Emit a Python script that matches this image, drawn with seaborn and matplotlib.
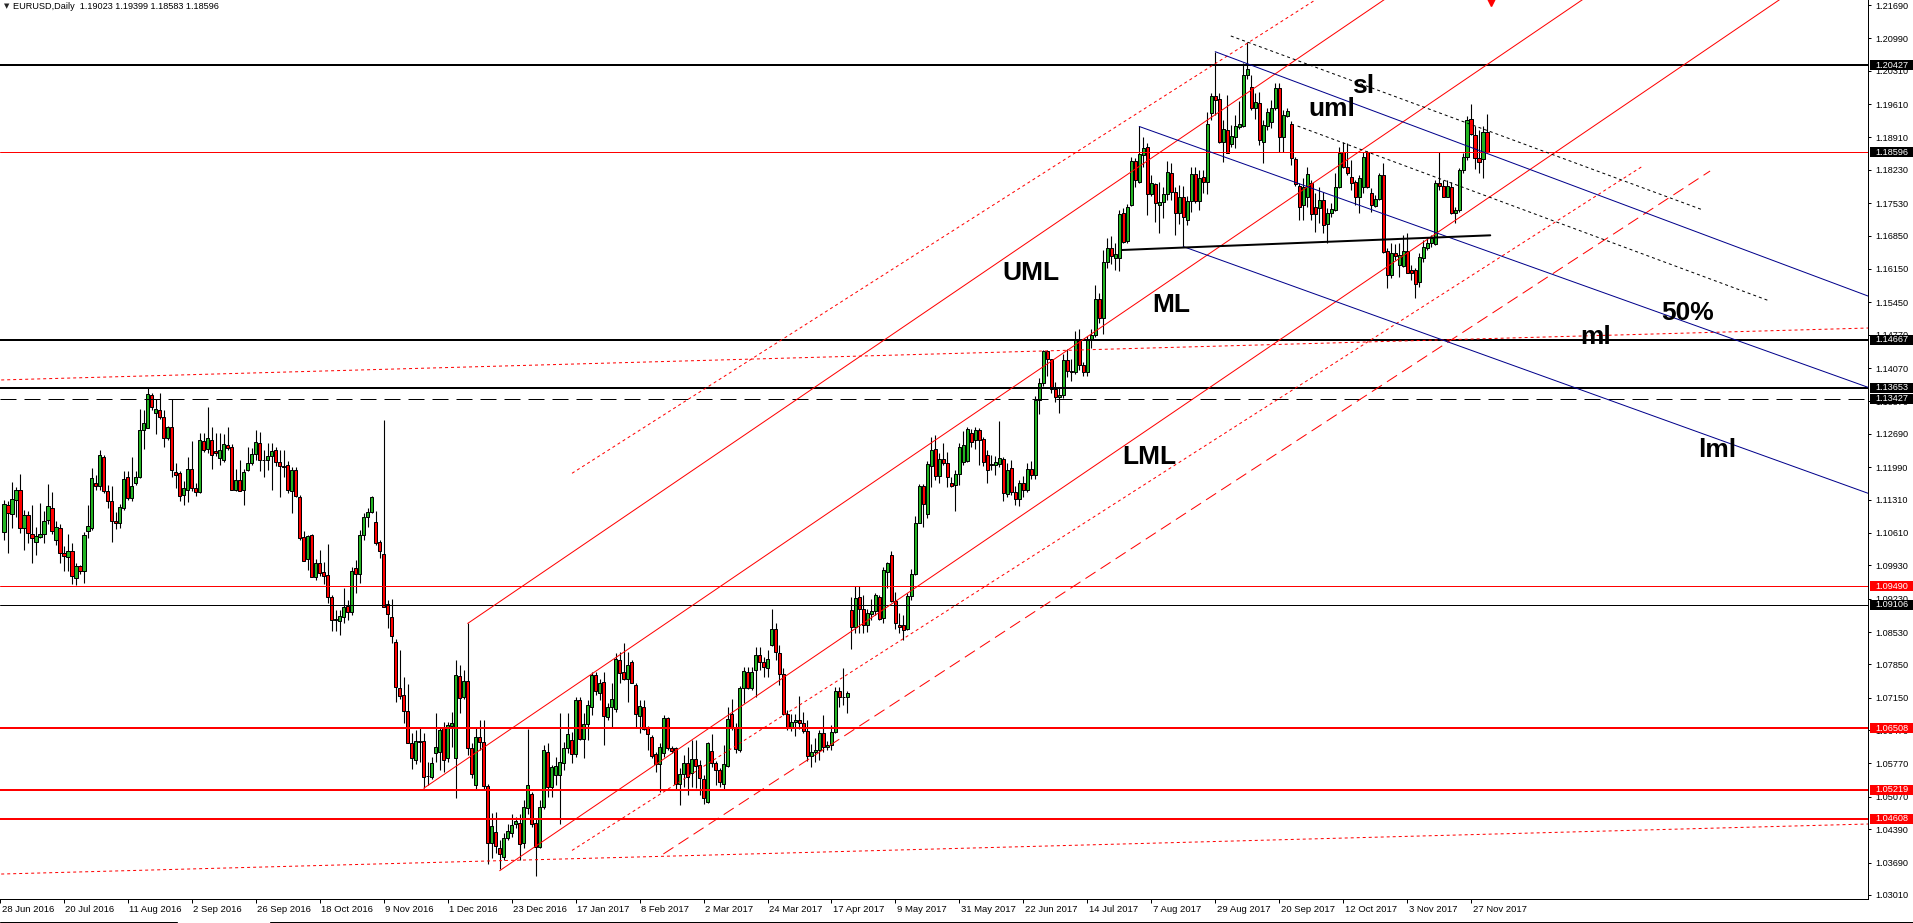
import matplotlib
matplotlib.use("Agg")
import matplotlib.pyplot as plt
import matplotlib.transforms as mtransforms
from matplotlib.patches import Rectangle
from matplotlib.lines import Line2D
import seaborn as sns
import numpy as np
import pandas as pd

# Style
sns.set_theme(style="white")
plt.rcParams['font.family'] = ['Liberation Sans', 'DejaVu Sans']
plt.rcParams['lines.scale_dashes'] = False

PX = 0.72  # one screen pixel in points (dpi 100)

# ---- EURUSD daily bars, 29 Jun 2016 .. 1 Dec 2017 (bar index 0..371) ----
opens = [
    1.1062, 1.1119, 1.1100, 1.1130, 1.1151, 1.1071, 1.1098, 1.1058, 1.1042, 1.1053,
    1.1058, 1.1088, 1.1113, 1.1047, 1.1071, 1.1019, 1.1011, 1.1023, 1.0966, 1.0991,
    1.0982, 1.1066, 1.1072, 1.1165, 1.1159, 1.1220, 1.1149, 1.1128, 1.1086, 1.1081,
    1.1113, 1.1178, 1.1135, 1.1165, 1.1179, 1.1276, 1.1282, 1.1350, 1.1313, 1.1318,
    1.1304, 1.1261, 1.1283, 1.1189, 1.1186, 1.1141, 1.1152, 1.1196, 1.1155, 1.1146,
    1.1254, 1.1238, 1.1255, 1.1233, 1.1218, 1.1215, 1.1245, 1.1241, 1.1151, 1.1172,
    1.1151, 1.1192, 1.1207, 1.1226, 1.1249, 1.1213, 1.1213, 1.1222, 1.1234, 1.1209,
    1.1201, 1.1203, 1.1148, 1.1194, 1.1136, 1.1052, 1.1006, 1.1056, 1.0968, 1.0998,
    1.0978, 1.0972, 1.0926, 1.0878, 1.0877, 1.0885, 1.0908, 1.0894, 1.0987, 1.0974,
    1.1056, 1.1094, 1.1104, 1.1083, 1.1041, 1.1016, 1.0911, 1.0884, 1.0833, 1.0736,
    1.0720, 1.0688, 1.0619, 1.0584, 1.0625, 1.0625, 1.0551, 1.0548, 1.0600, 1.0602,
    1.0651, 1.0588, 1.0656, 1.0588, 1.0761, 1.0717, 1.0750, 1.0610, 1.0532, 1.0633,
    1.0623, 1.0530, 1.0410, 1.0434, 1.0399, 1.0381, 1.0420, 1.0432, 1.0450, 1.0453,
    1.0411, 1.0483, 1.0513, 1.0453, 1.0402, 1.0486, 1.0602, 1.0527, 1.0552, 1.0552,
    1.0577, 1.0609, 1.0626, 1.0597, 1.0710, 1.0628, 1.0660, 1.0696, 1.0762, 1.0726,
    1.0749, 1.0675, 1.0695, 1.0691, 1.0794, 1.0768, 1.0755, 1.0790, 1.0742, 1.0677,
    1.0695, 1.0654, 1.0633, 1.0597, 1.0576, 1.0598, 1.0672, 1.0609, 1.0609, 1.0535,
    1.0556, 1.0577, 1.0558, 1.0586, 1.0574, 1.0544, 1.0497, 1.0603, 1.0579, 1.0563,
    1.0535, 1.0572, 1.0680, 1.0651, 1.0605, 1.0735, 1.0770, 1.0735, 1.0773, 1.0805,
    1.0790, 1.0778, 1.0825, 1.0860, 1.0808, 1.0765, 1.0680, 1.0652, 1.0665, 1.0669,
    1.0661, 1.0646, 1.0592, 1.0601, 1.0605, 1.0642, 1.0612, 1.0616, 1.0643, 1.0730,
    1.0716, 1.0716, 1.0899, 1.0864, 1.0927, 1.0902, 1.0867, 1.0891, 1.0897, 1.0927,
    1.0883, 1.0979, 1.1014, 1.0918, 1.0867, 1.0867, 1.0860, 1.0928, 1.0974, 1.1082,
    1.1159, 1.1100, 1.1201, 1.1238, 1.1180, 1.1217, 1.1207, 1.1165, 1.1161, 1.1184,
    1.1210, 1.1212, 1.1270, 1.1256, 1.1277, 1.1259, 1.1224, 1.1205, 1.1203, 1.1205,
    1.1217, 1.1142, 1.1197, 1.1146, 1.1132, 1.1166, 1.1151, 1.1195, 1.1182, 1.1339,
    1.1375, 1.1442, 1.1425, 1.1362, 1.1347, 1.1350, 1.1423, 1.1400, 1.1399, 1.1467,
    1.1414, 1.1398, 1.1468, 1.1476, 1.1551, 1.1513, 1.1629, 1.1660, 1.1639, 1.1639,
    1.1733, 1.1674, 1.1749, 1.1841, 1.1798, 1.1854, 1.1870, 1.1772, 1.1793, 1.1749,
    1.1756, 1.1772, 1.1817, 1.1776, 1.1732, 1.1765, 1.1718, 1.1758, 1.1814, 1.1758,
    1.1808, 1.1798, 1.1943, 1.1978, 1.1971, 1.1882, 1.1907, 1.1877, 1.1891, 1.1912,
    1.1915, 1.2022, 1.1996, 1.1952, 1.1964, 1.1881, 1.1916, 1.1923, 1.1952, 1.1994,
    1.1891, 1.1937, 1.1920, 1.1845, 1.1790, 1.1749, 1.1767, 1.1795, 1.1746, 1.1742,
    1.1760, 1.1709, 1.1733, 1.1739, 1.1788, 1.1861, 1.1828, 1.1809, 1.1798, 1.1765,
    1.1786, 1.1861, 1.1774, 1.1747, 1.1761, 1.1812, 1.1653, 1.1602, 1.1648, 1.1623,
    1.1621, 1.1653, 1.1613, 1.1613, 1.1588, 1.1637, 1.1660, 1.1669, 1.1667, 1.1795,
    1.1789, 1.1767, 1.1788, 1.1732, 1.1739, 1.1823, 1.1849, 1.1929, 1.1896, 1.1847,
    1.1845, 1.19023,
]
highs = [
    1.1130, 1.1129, 1.1167, 1.1158, 1.1185, 1.1109, 1.1106, 1.1119, 1.1073, 1.1123,
    1.1106, 1.1164, 1.1147, 1.1085, 1.1080, 1.1034, 1.1059, 1.1039, 1.0998, 1.0993,
    1.1063, 1.1119, 1.1197, 1.1183, 1.1234, 1.1225, 1.1162, 1.1159, 1.1104, 1.1122,
    1.1190, 1.1190, 1.1220, 1.1190, 1.1321, 1.1319, 1.1365, 1.1355, 1.1341, 1.1355,
    1.1318, 1.1285, 1.1341, 1.1207, 1.1191, 1.1169, 1.1220, 1.1253, 1.1165, 1.1270,
    1.1271, 1.1325, 1.1284, 1.1270, 1.1271, 1.1268, 1.1283, 1.1247, 1.1196, 1.1213,
    1.1195, 1.1241, 1.1239, 1.1278, 1.1273, 1.1235, 1.1249, 1.1249, 1.1242, 1.1236,
    1.1234, 1.1212, 1.1199, 1.1199, 1.1141, 1.1066, 1.1057, 1.1058, 1.1006, 1.1025,
    1.0999, 1.1037, 1.0930, 1.0899, 1.0899, 1.0946, 1.0920, 1.0990, 1.1004, 1.1067,
    1.1102, 1.1113, 1.1138, 1.1108, 1.1046, 1.1298, 1.0920, 1.0922, 1.0838, 1.0815,
    1.0758, 1.0744, 1.0640, 1.0647, 1.0654, 1.0640, 1.0581, 1.0591, 1.0682, 1.0654,
    1.0665, 1.0665, 1.0686, 1.0794, 1.0784, 1.0773, 1.0871, 1.0619, 1.0651, 1.0668,
    1.0668, 1.0534, 1.0473, 1.0476, 1.0417, 1.0431, 1.0450, 1.0472, 1.0465, 1.0472,
    1.0500, 1.0649, 1.0518, 1.0462, 1.0500, 1.0616, 1.0619, 1.0574, 1.0591, 1.0682,
    1.0623, 1.0682, 1.0644, 1.0717, 1.0716, 1.0682, 1.0710, 1.0770, 1.0770, 1.0754,
    1.0770, 1.0703, 1.0745, 1.0808, 1.0810, 1.0829, 1.0812, 1.0794, 1.0747, 1.0710,
    1.0710, 1.0656, 1.0637, 1.0602, 1.0619, 1.0679, 1.0675, 1.0614, 1.0612, 1.0567,
    1.0595, 1.0612, 1.0626, 1.0626, 1.0584, 1.0553, 1.0623, 1.0638, 1.0582, 1.0567,
    1.0616, 1.0696, 1.0712, 1.0661, 1.0740, 1.0780, 1.0780, 1.0780, 1.0822, 1.0822,
    1.0801, 1.0815, 1.0902, 1.0871, 1.0825, 1.0777, 1.0690, 1.0681, 1.0680, 1.0718,
    1.0685, 1.0669, 1.0617, 1.0630, 1.0647, 1.0678, 1.0625, 1.0657, 1.0737, 1.0737,
    1.0777, 1.0730, 1.0927, 1.0949, 1.0949, 1.0930, 1.0902, 1.0923, 1.0934, 1.0930,
    1.0990, 1.1000, 1.1022, 1.0937, 1.0892, 1.0888, 1.0934, 1.0986, 1.1096, 1.1163,
    1.1163, 1.1212, 1.1263, 1.1266, 1.1228, 1.1249, 1.1231, 1.1179, 1.1193, 1.1249,
    1.1275, 1.1284, 1.1280, 1.1284, 1.1282, 1.1263, 1.1235, 1.1224, 1.1222, 1.1296,
    1.1221, 1.1207, 1.1213, 1.1160, 1.1172, 1.1181, 1.1208, 1.1212, 1.1349, 1.1386,
    1.1445, 1.1445, 1.1426, 1.1378, 1.1368, 1.1437, 1.1447, 1.1425, 1.1484, 1.1490,
    1.1420, 1.1474, 1.1488, 1.1581, 1.1564, 1.1655, 1.1679, 1.1684, 1.1669, 1.1739,
    1.1742, 1.1751, 1.1849, 1.1847, 1.1914, 1.1891, 1.1879, 1.1813, 1.1795, 1.1798,
    1.1786, 1.1842, 1.1837, 1.1788, 1.1791, 1.1789, 1.1769, 1.1828, 1.1829, 1.1822,
    1.1822, 1.1945, 1.1985, 1.2071, 1.1984, 1.1928, 1.1980, 1.1917, 1.1938, 1.1968,
    1.2047, 1.2092, 1.2022, 1.1984, 1.1987, 1.1928, 1.1952, 1.1970, 1.2005, 1.2005,
    1.1949, 1.1952, 1.1925, 1.1851, 1.1795, 1.1805, 1.1830, 1.1802, 1.1774, 1.1786,
    1.1777, 1.1742, 1.1753, 1.1816, 1.1872, 1.1882, 1.1879, 1.1844, 1.1802, 1.1812,
    1.1861, 1.1863, 1.1784, 1.1770, 1.1816, 1.1837, 1.1658, 1.1669, 1.1668, 1.1669,
    1.1686, 1.1690, 1.1623, 1.1616, 1.1648, 1.1676, 1.1683, 1.1686, 1.1802, 1.1861,
    1.1802, 1.1802, 1.1798, 1.1746, 1.1826, 1.1858, 1.1935, 1.1961, 1.1914, 1.1907,
    1.1914, 1.19399,
]
lows = [
    1.1046, 1.1019, 1.1071, 1.1095, 1.1060, 1.1025, 1.1039, 1.0997, 1.1015, 1.1050,
    1.1040, 1.1080, 1.1058, 1.1036, 1.0998, 1.0980, 1.0980, 1.0953, 1.0952, 1.0975,
    1.0956, 1.1050, 1.1067, 1.1151, 1.1151, 1.1145, 1.1113, 1.1042, 1.1070, 1.1071,
    1.1109, 1.1131, 1.1129, 1.1162, 1.1176, 1.1237, 1.1281, 1.1320, 1.1269, 1.1301,
    1.1242, 1.1256, 1.1179, 1.1156, 1.1128, 1.1120, 1.1125, 1.1149, 1.1138, 1.1144,
    1.1231, 1.1229, 1.1195, 1.1222, 1.1204, 1.1209, 1.1235, 1.1151, 1.1148, 1.1148,
    1.1120, 1.1190, 1.1204, 1.1215, 1.1190, 1.1179, 1.1193, 1.1151, 1.1201, 1.1136,
    1.1179, 1.1145, 1.1102, 1.1137, 1.1047, 1.1001, 1.0983, 1.0968, 1.0962, 1.0970,
    1.0954, 1.0913, 1.0856, 1.0856, 1.0847, 1.0871, 1.0879, 1.0889, 1.0934, 1.0956,
    1.1046, 1.1074, 1.1102, 1.1036, 1.1008, 1.0905, 1.0862, 1.0829, 1.0707, 1.0712,
    1.0663, 1.0619, 1.0566, 1.0575, 1.0581, 1.0525, 1.0531, 1.0544, 1.0581, 1.0563,
    1.0560, 1.0581, 1.0612, 1.0504, 1.0682, 1.0712, 1.0595, 1.0546, 1.0523, 1.0605,
    1.0521, 1.0367, 1.0378, 1.0389, 1.0355, 1.0374, 1.0416, 1.0423, 1.0441, 1.0375,
    1.0399, 1.0472, 1.0444, 1.0341, 1.0399, 1.0481, 1.0507, 1.0507, 1.0532, 1.0451,
    1.0563, 1.0598, 1.0577, 1.0591, 1.0626, 1.0588, 1.0626, 1.0679, 1.0721, 1.0710,
    1.0616, 1.0668, 1.0654, 1.0686, 1.0745, 1.0752, 1.0707, 1.0745, 1.0651, 1.0640,
    1.0647, 1.0605, 1.0588, 1.0560, 1.0518, 1.0591, 1.0605, 1.0598, 1.0521, 1.0490,
    1.0528, 1.0511, 1.0528, 1.0525, 1.0511, 1.0493, 1.0495, 1.0570, 1.0532, 1.0528,
    1.0523, 1.0570, 1.0647, 1.0598, 1.0602, 1.0703, 1.0733, 1.0731, 1.0717, 1.0773,
    1.0759, 1.0759, 1.0823, 1.0794, 1.0741, 1.0678, 1.0648, 1.0645, 1.0635, 1.0649,
    1.0642, 1.0583, 1.0570, 1.0580, 1.0585, 1.0602, 1.0605, 1.0605, 1.0640, 1.0695,
    1.0700, 1.0683, 1.0818, 1.0850, 1.0850, 1.0850, 1.0853, 1.0879, 1.0888, 1.0878,
    1.0872, 1.0946, 1.0916, 1.0860, 1.0850, 1.0836, 1.0857, 1.0921, 1.0972, 1.1081,
    1.1074, 1.1093, 1.1158, 1.1173, 1.1166, 1.1203, 1.1158, 1.1158, 1.1107, 1.1161,
    1.1203, 1.1210, 1.1242, 1.1238, 1.1203, 1.1201, 1.1165, 1.1193, 1.1182, 1.1200,
    1.1128, 1.1137, 1.1141, 1.1119, 1.1118, 1.1137, 1.1147, 1.1175, 1.1175, 1.1310,
    1.1370, 1.1391, 1.1355, 1.1335, 1.1312, 1.1345, 1.1388, 1.1379, 1.1394, 1.1402,
    1.1390, 1.1390, 1.1450, 1.1472, 1.1501, 1.1478, 1.1618, 1.1625, 1.1613, 1.1611,
    1.1669, 1.1669, 1.1747, 1.1788, 1.1795, 1.1830, 1.1728, 1.1768, 1.1714, 1.1690,
    1.1721, 1.1760, 1.1760, 1.1686, 1.1709, 1.1662, 1.1707, 1.1735, 1.1754, 1.1739,
    1.1774, 1.1772, 1.1928, 1.1938, 1.1879, 1.1840, 1.1858, 1.1872, 1.1868, 1.1908,
    1.1912, 1.2013, 1.1949, 1.1929, 1.1875, 1.1837, 1.1907, 1.1910, 1.1949, 1.1861,
    1.1861, 1.1933, 1.1833, 1.1789, 1.1718, 1.1718, 1.1746, 1.1718, 1.1693, 1.1711,
    1.1690, 1.1669, 1.1725, 1.1737, 1.1784, 1.1826, 1.1812, 1.1780, 1.1749, 1.1732,
    1.1774, 1.1784, 1.1735, 1.1746, 1.1760, 1.1648, 1.1574, 1.1595, 1.1634, 1.1598,
    1.1620, 1.1606, 1.1592, 1.1553, 1.1578, 1.1630, 1.1654, 1.1662, 1.1665, 1.1781,
    1.1765, 1.1765, 1.1730, 1.1711, 1.1735, 1.1816, 1.1844, 1.1896, 1.1824, 1.1816,
    1.1805, 1.18583,
]
closes = [
    1.1121, 1.1103, 1.1133, 1.1151, 1.1072, 1.1098, 1.1060, 1.1050, 1.1054, 1.1059,
    1.1086, 1.1117, 1.1066, 1.1073, 1.1018, 1.1013, 1.1023, 1.0971, 1.0991, 1.0982,
    1.1057, 1.1075, 1.1176, 1.1160, 1.1225, 1.1148, 1.1127, 1.1085, 1.1082, 1.1115,
    1.1174, 1.1135, 1.1159, 1.1179, 1.1277, 1.1291, 1.1353, 1.1326, 1.1321, 1.1305,
    1.1261, 1.1283, 1.1192, 1.1183, 1.1139, 1.1155, 1.1195, 1.1156, 1.1146, 1.1255,
    1.1236, 1.1260, 1.1224, 1.1229, 1.1234, 1.1247, 1.1240, 1.1152, 1.1172, 1.1149,
    1.1188, 1.1207, 1.1226, 1.1251, 1.1215, 1.1215, 1.1222, 1.1233, 1.1210, 1.1201,
    1.1200, 1.1152, 1.1194, 1.1138, 1.1051, 1.1003, 1.1055, 1.0969, 1.0998, 1.0977,
    1.0971, 1.0926, 1.0879, 1.0881, 1.0886, 1.0905, 1.0894, 1.0980, 1.0974, 1.1056,
    1.1094, 1.1104, 1.1136, 1.1039, 1.1022, 1.0906, 1.0890, 1.0845, 1.0737, 1.0719,
    1.0688, 1.0620, 1.0588, 1.0625, 1.0623, 1.0548, 1.0550, 1.0579, 1.0611, 1.0647,
    1.0585, 1.0658, 1.0661, 1.0763, 1.0714, 1.0750, 1.0610, 1.0554, 1.0633, 1.0623,
    1.0530, 1.0410, 1.0446, 1.0403, 1.0387, 1.0420, 1.0436, 1.0447, 1.0457, 1.0409,
    1.0486, 1.0532, 1.0451, 1.0402, 1.0486, 1.0605, 1.0528, 1.0569, 1.0572, 1.0581,
    1.0609, 1.0638, 1.0597, 1.0710, 1.0628, 1.0659, 1.0699, 1.0762, 1.0730, 1.0745,
    1.0677, 1.0695, 1.0712, 1.0796, 1.0766, 1.0755, 1.0783, 1.0747, 1.0680, 1.0698,
    1.0650, 1.0638, 1.0593, 1.0576, 1.0612, 1.0672, 1.0609, 1.0604, 1.0533, 1.0556,
    1.0579, 1.0549, 1.0586, 1.0572, 1.0546, 1.0504, 1.0619, 1.0579, 1.0563, 1.0539,
    1.0576, 1.0671, 1.0651, 1.0607, 1.0736, 1.0772, 1.0735, 1.0770, 1.0805, 1.0791,
    1.0780, 1.0796, 1.0860, 1.0811, 1.0765, 1.0680, 1.0652, 1.0665, 1.0669, 1.0661,
    1.0646, 1.0592, 1.0601, 1.0605, 1.0642, 1.0612, 1.0616, 1.0643, 1.0730, 1.0716,
    1.0716, 1.0726, 1.0864, 1.0925, 1.0902, 1.0867, 1.0892, 1.0897, 1.0930, 1.0881,
    1.0983, 1.0997, 1.0918, 1.0872, 1.0864, 1.0857, 1.0928, 1.0974, 1.1081, 1.1159,
    1.1121, 1.1205, 1.1236, 1.1180, 1.1217, 1.1208, 1.1179, 1.1160, 1.1184, 1.1242,
    1.1245, 1.1280, 1.1252, 1.1277, 1.1256, 1.1210, 1.1194, 1.1203, 1.1210, 1.1219,
    1.1144, 1.1193, 1.1146, 1.1132, 1.1166, 1.1151, 1.1195, 1.1182, 1.1339, 1.1375,
    1.1442, 1.1425, 1.1362, 1.1347, 1.1350, 1.1423, 1.1400, 1.1399, 1.1467, 1.1414,
    1.1398, 1.1468, 1.1476, 1.1551, 1.1513, 1.1629, 1.1660, 1.1642, 1.1646, 1.1731,
    1.1672, 1.1746, 1.1841, 1.1802, 1.1856, 1.1869, 1.1772, 1.1795, 1.1753, 1.1756,
    1.1772, 1.1819, 1.1777, 1.1733, 1.1765, 1.1723, 1.1758, 1.1814, 1.1758, 1.1806,
    1.1797, 1.1919, 1.1978, 1.1970, 1.1882, 1.1909, 1.1859, 1.1894, 1.1914, 1.1919,
    1.2022, 1.2034, 1.1952, 1.1965, 1.1886, 1.1917, 1.1944, 1.1952, 1.1994, 1.1891,
    1.1939, 1.1946, 1.1847, 1.1793, 1.1744, 1.1788, 1.1814, 1.1730, 1.1730, 1.1760,
    1.1708, 1.1732, 1.1740, 1.1788, 1.1859, 1.1828, 1.1817, 1.1795, 1.1767, 1.1805,
    1.1849, 1.1786, 1.1749, 1.1761, 1.1812, 1.1651, 1.1602, 1.1648, 1.1642, 1.1644,
    1.1653, 1.1607, 1.1606, 1.1583, 1.1641, 1.1662, 1.1670, 1.1680, 1.1796, 1.1789,
    1.1767, 1.1789, 1.1732, 1.1739, 1.1823, 1.1849, 1.1928, 1.1898, 1.1847, 1.1840,
    1.1903, 1.18596,
]

# date axis labels (every 16th bar, first one at bar -1)
date_labels = ['28 Jun 2016', '20 Jul 2016', '11 Aug 2016', '2 Sep 2016', '26 Sep 2016',
               '18 Oct 2016', '9 Nov 2016', '1 Dec 2016', '23 Dec 2016', '17 Jan 2017',
               '8 Feb 2017', '2 Mar 2017', '24 Mar 2017', '17 Apr 2017', '9 May 2017',
               '31 May 2017', '22 Jun 2017', '14 Jul 2017', '7 Aug 2017', '29 Aug 2017',
               '20 Sep 2017', '12 Oct 2017', '3 Nov 2017', '27 Nov 2017']
date_bars = list(range(-1, 16 * len(date_labels) - 1, 16))

price_ticks = [1.21690, 1.20990, 1.20310, 1.19610, 1.18910, 1.18230, 1.17530, 1.16850,
               1.16150, 1.15450, 1.14770, 1.14070, 1.13370, 1.12690, 1.11990, 1.11310,
               1.10610, 1.09930, 1.09230, 1.08530, 1.07850, 1.07150, 1.06470, 1.05770,
               1.05070, 1.04390, 1.03690, 1.03010]

# horizontal levels
level_prices = [1.20427, 1.18596, 1.14667, 1.13653, 1.13427, 1.09490, 1.09106, 1.06508, 1.05219, 1.04608]
level_colors = ['black', 'red', 'black', 'black', 'black', 'red', 'black', 'red', 'red', 'red']
level_widths = [2, 1, 2, 2, 1, 1, 1, 2, 2, 2]
level_dashed = [False, False, False, False, True, False, False, False, False, False]
level_tag_bg = ['black', 'black', 'black', 'black', 'black', 'red', 'black', 'red', 'red', 'red']

# red pitchfork: pivots (bar, price) and slope per bar
red_fork = [(105, 1.0525), (116, 1.0871), (124, 1.0352)]
red_slope = 0.000571
# extra red lines: ((bar, price), (bar, price), style)
red_extra = [((142.1, 1.11861), (328.1, 1.2180), 'dot'),
             ((142.1, 1.03945), (409.6, 1.18290), 'dot'),
             ((164.95, 1.03871), (426.8, 1.18206), 'dash'),
             ((-0.7, 1.0345), (466.3, 1.0450), 'dot'),
             ((-0.7, 1.1382), (466.3, 1.1491), 'dot')]

# blue pitchfork lines: start (bar, price) -> price at right edge (bar 466.3)
blue_lines = [((303, 1.2071), 1.15582),
              ((284, 1.1914), 1.13666),
              ((295, 1.1662), 1.11442)]
# black dotted lines
black_dotted = [((306.9, 1.2104), (424.6, 1.1740)),
                ((323.6, 1.1915), (441.6, 1.1548))]
# neckline
neckline = ((279.7, 1.16548), (371.8, 1.16856))

# text labels (bar, baseline price)
labels = [('UML', 249.7, 1.15918), ('ML', 287.25, 1.15253), ('LML', 279.8, 1.1206),
          ('uml', 326.4, 1.1935), ('sl', 337.3, 1.1984), ('50%', 414.6, 1.1508),
          ('ml', 394.3, 1.1458), ('lml', 423.8, 1.1220)]

GREEN = '#22B422'
RED = '#FF0000'
BLUE = '#00008B'

df = pd.DataFrame({'open': opens, 'high': highs, 'low': lows, 'close': closes})
df['bar'] = np.arange(len(df))
df['up'] = df['close'] >= df['open']

W, H = 1913, 923
fig = plt.figure(figsize=(W / 100, H / 100), dpi=100)
fig.patch.set_facecolor('white')
ax = fig.add_axes([0, 24 / H, 1868 / W, 899 / H])
ax.set_facecolor('white')
ax.set_xlim(-0.675, 466.3)
ax.set_ylim(1.02926, 1.21795)

# candles
ax.vlines(df['bar'], df['low'], df['high'], color='black', linewidth=1.1 * PX, zorder=3)
body_lo = df[['open', 'close']].min(axis=1)
body_h = (df['close'] - df['open']).abs().clip(lower=0.00005)
ax.bar(df['bar'], body_h, bottom=body_lo, width=0.78,
       color=np.where(df['up'], GREEN, RED), edgecolor='black', linewidth=PX, zorder=4)

# horizontal levels
for p, c, w, d in zip(level_prices, level_colors, level_widths, level_dashed):
    if d:
        ax.axhline(p, color=c, lw=w * PX, dashes=(16 * PX, 8 * PX), zorder=5)
    else:
        ax.axhline(p, color=c, lw=w * PX, zorder=5)

DOT = (3 * PX, 3 * PX)
DASH = (12 * PX, 6 * PX)

# red pitchfork lines
for k0, p0 in red_fork:
    k1 = 470
    ax.plot([k0, k1], [p0, p0 + red_slope * (k1 - k0)], color=RED, lw=PX, zorder=5)
for (k0, p0), (k1, p1), st in red_extra:
    ax.plot([k0, k1], [p0, p1], color=RED, lw=PX, dashes=DOT if st == 'dot' else DASH, zorder=5)

# blue pitchfork
for (k0, p0), p1 in blue_lines:
    ax.plot([k0, 466.3], [p0, p1], color=BLUE, lw=PX, zorder=5)

for (k0, p0), (k1, p1) in black_dotted:
    ax.plot([k0, k1], [p0, p1], color='black', lw=PX, dashes=DOT, zorder=5)

ax.plot([neckline[0][0], neckline[1][0]], [neckline[0][1], neckline[1][1]],
        color='black', lw=2 * PX, zorder=5)

# small red arrow at top
ax.plot([372.1], [1.2177], marker='v', color=RED, markersize=7, zorder=6)

for s, k, p in labels:
    ax.text(k, p, s, fontsize=19, fontweight='bold', color='black',
            ha='left', va='baseline', zorder=8)

# axes decoration
for side in ['top', 'left']:
    ax.spines[side].set_visible(False)
for side in ['right', 'bottom']:
    ax.spines[side].set_visible(True)
    ax.spines[side].set_color('black')
    ax.spines[side].set_linewidth(PX)

ax.yaxis.tick_right()
ax.set_yticks(price_ticks)
ax.set_yticklabels([f'{t:.5f}' for t in price_ticks])
ax.tick_params(axis='y', which='both', right=True, left=False, direction='out',
               length=3 * PX, width=PX, color='black', pad=4 * PX,
               labelsize=6.6, labelcolor='black')

ax.set_xticks(date_bars)
ax.set_xticklabels([])
ax.tick_params(axis='x', bottom=True, direction='out', length=4 * PX, width=PX, color='black')
xtrans = mtransforms.offset_copy(mtransforms.blended_transform_factory(ax.transData, ax.transAxes),
                                 fig=fig, x=1.5, y=-10, units='dots')
for k, lab in zip(date_bars, date_labels):
    ax.text(k, 0, lab, transform=xtrans, ha='left', va='center', fontsize=6.8,
            color='black', clip_on=False)

# price tags on the right axis
tag_trans = mtransforms.blended_transform_factory(ax.transAxes, ax.transData)
pp = (1.21795 - 1.02926) / 899
for p, bg in zip(level_prices, level_tag_bg):
    ax.add_patch(Rectangle((1 + 1.5 / 1868, p - 5 * pp), 43 / 1868, 10 * pp,
                           transform=tag_trans, facecolor=bg, edgecolor='none',
                           clip_on=False, zorder=20))
    ax.text(1 + 7 / 1868, p, f'{p:.5f}', transform=tag_trans, color='white',
            fontsize=6.6, ha='left', va='center', clip_on=False, zorder=21)

# header
fig.text(3.5 / W, 1 - 6.5 / H, '\u25bc', fontsize=5, family='DejaVu Sans', va='center', ha='left')
fig.text(13 / W, 1 - 6.5 / H, 'EURUSD,Daily  1.19023 1.19399 1.18583 1.18596',
         fontsize=6.6, va='center', ha='left', color='black')

# window border at the very bottom
fig.add_artist(Line2D([0, 177 / W], [1.2 / H, 1.2 / H], color='black', lw=PX))
fig.add_artist(Line2D([270 / W, 1], [1.2 / H, 1.2 / H], color='black', lw=PX))

fig.savefig('out.png', dpi=100, facecolor='white')
